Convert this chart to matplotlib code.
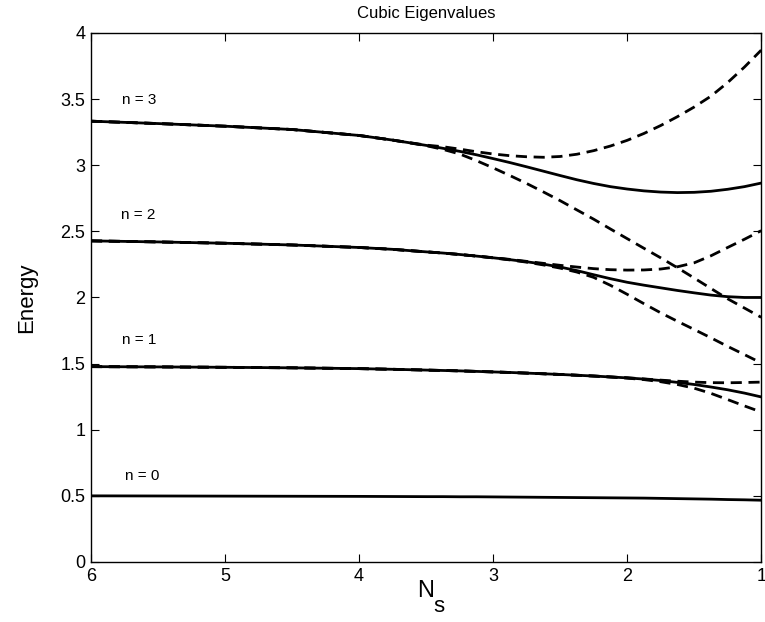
import matplotlib
matplotlib.use("Agg")
import matplotlib.pyplot as plt

plt.rcParams['font.family'] = ['Liberation Sans', 'DejaVu Sans']

# N_s grid (axis runs from 6 down to 1)
ns = [6.0, 5.5, 5.0, 4.5, 4.0, 3.75, 3.5, 3.375, 3.25, 3.125, 3.0, 2.875, 2.75, 2.625,
      2.5, 2.375, 2.25, 2.125, 2.0, 1.875, 1.75, 1.625, 1.5, 1.375, 1.25, 1.125, 1.0]

# exact eigenvalues
e0 = [0.500, 0.499, 0.498, 0.497, 0.496, 0.495, 0.494, 0.494, 0.493, 0.493, 0.492, 0.491, 0.490, 0.489,
      0.488, 0.487, 0.486, 0.485, 0.484, 0.483, 0.481, 0.479, 0.477, 0.475, 0.472, 0.470, 0.467]
e1 = [1.477, 1.475, 1.472, 1.468, 1.462, 1.457, 1.451, 1.448, 1.445, 1.441, 1.437, 1.433, 1.428, 1.423,
      1.418, 1.412, 1.406, 1.399, 1.392, 1.383, 1.372, 1.358, 1.342, 1.323, 1.302, 1.277, 1.248]
e2 = [2.428, 2.420, 2.410, 2.397, 2.378, 2.364, 2.345, 2.336, 2.325, 2.313, 2.300, 2.286, 2.270, 2.252,
      2.230, 2.203, 2.172, 2.142, 2.115, 2.093, 2.073, 2.053, 2.035, 2.018, 2.006, 2.000, 2.000]
e3 = [3.333, 3.315, 3.295, 3.270, 3.225, 3.190, 3.150, 3.128, 3.105, 3.079, 3.050, 3.020, 2.988, 2.955,
      2.922, 2.890, 2.862, 2.838, 2.820, 2.806, 2.797, 2.793, 2.795, 2.803, 2.818, 2.838, 2.865]

# approximations (upper / lower branch)
a1_up = [1.477, 1.475, 1.472, 1.468, 1.462, 1.457, 1.451, 1.448, 1.445, 1.441, 1.437, 1.433, 1.428, 1.423,
         1.418, 1.412, 1.406, 1.399, 1.393, 1.384, 1.375, 1.367, 1.360, 1.356, 1.355, 1.357, 1.360]
a1_lo = [1.477, 1.475, 1.472, 1.468, 1.462, 1.457, 1.451, 1.448, 1.445, 1.441, 1.437, 1.433, 1.428, 1.423,
         1.418, 1.412, 1.406, 1.399, 1.390, 1.379, 1.363, 1.342, 1.314, 1.275, 1.228, 1.180, 1.134]
a2_up = [2.428, 2.420, 2.410, 2.397, 2.378, 2.364, 2.345, 2.336, 2.325, 2.313, 2.301, 2.288, 2.273, 2.258,
         2.243, 2.230, 2.218, 2.210, 2.207, 2.208, 2.215, 2.232, 2.262, 2.315, 2.378, 2.440, 2.505]
a2_lo = [2.428, 2.420, 2.410, 2.397, 2.378, 2.364, 2.345, 2.336, 2.325, 2.313, 2.299, 2.284, 2.267, 2.246,
         2.222, 2.192, 2.152, 2.092, 2.024, 1.953, 1.884, 1.820, 1.758, 1.695, 1.630, 1.568, 1.505]
a3_up = [3.333, 3.315, 3.295, 3.270, 3.225, 3.190, 3.152, 3.140, 3.122, 3.102, 3.085, 3.072, 3.064, 3.060,
         3.066, 3.083, 3.110, 3.145, 3.188, 3.240, 3.300, 3.367, 3.440, 3.522, 3.625, 3.742, 3.870]
a3_lo = [3.333, 3.315, 3.295, 3.270, 3.225, 3.190, 3.148, 3.120, 3.085, 3.035, 2.980, 2.922, 2.862, 2.798,
         2.732, 2.662, 2.592, 2.518, 2.445, 2.372, 2.300, 2.225, 2.147, 2.068, 1.990, 1.920, 1.850]

levels = ["n = 0", "n = 1", "n = 2", "n = 3"]
label_x = [5.62, 5.64, 5.65, 5.64]
label_y = [0.65, 1.68, 2.62, 3.49]

fig = plt.figure(figsize=(7.65, 6.22), dpi=100)
ax = fig.add_axes([0.119, 0.0965, 0.876, 0.8505])

dash = (4, 2.4)
for up, lo in [(a1_up, a1_lo), (a2_up, a2_lo), (a3_up, a3_lo)]:
    ax.plot(ns, up, color="black", lw=2.0, dashes=dash)
    ax.plot(ns, lo, color="black", lw=2.0, dashes=dash)
for e in [e0, e1, e2, e3]:
    ax.plot(ns, e, color="black", lw=2.0)

for txt, lx, ly in zip(levels, label_x, label_y):
    ax.text(lx, ly, txt, fontsize=11, ha="center", va="center")

ax.set_xlim(6, 1)
ax.set_ylim(0, 4)
ax.set_xticks([6, 5, 4, 3, 2, 1])
ax.set_xticklabels(["6", "5", "4", "3", "2", "1"])
ax.set_yticks([0, 0.5, 1, 1.5, 2, 2.5, 3, 3.5, 4])
ax.set_yticklabels(["0", "0.5", "1", "1.5", "2", "2.5", "3", "3.5", "4"])
ax.tick_params(direction="in", top=True, right=True, length=6, width=0.8,
               labelsize=13, pad=4)
for s in ax.spines.values():
    s.set_linewidth(1.0)

ax.set_title("Cubic Eigenvalues", fontsize=12, pad=11)
ax.set_ylabel("Energy", fontsize=16, labelpad=17)

# x label: N with a low subscript s
fig.text(426 / 765, 1 - 591 / 622, "N", fontsize=17, ha="center", va="center")
fig.text(439 / 765, 1 - 607 / 622, "s", fontsize=16, ha="center", va="center")

fig.savefig("out.png", dpi=100)
